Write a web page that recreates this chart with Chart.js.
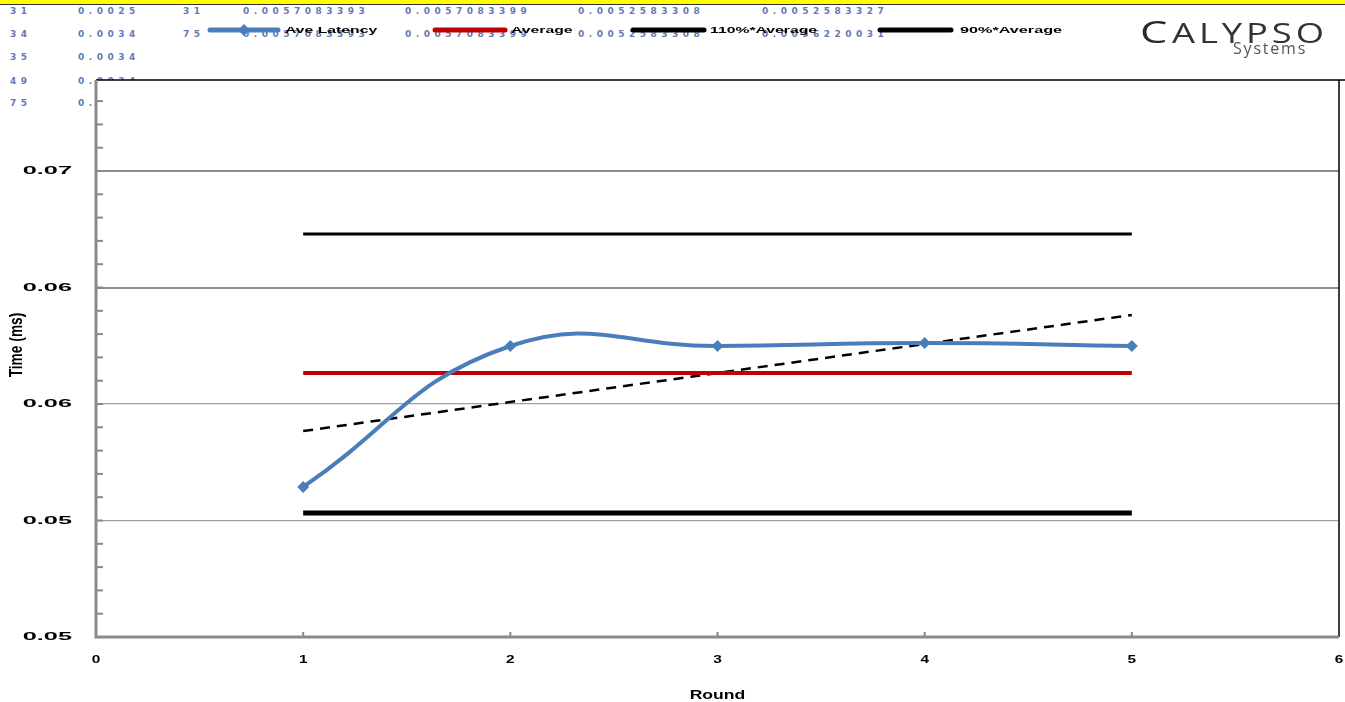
<!DOCTYPE html>
<html>
<head>
<meta charset="utf-8">
<script src="https://cdn.jsdelivr.net/npm/chart.js@4/dist/chart.umd.min.js"></script>
<style>
  html, body { margin:0; padding:0; background:#fff; width:1345px; height:702px; overflow:hidden; }
  #wrap { position:relative; width:1345px; height:702px; }
  #topbar { position:absolute; left:0; top:0; width:1345px; height:4px; background:#ffff00; border-bottom:1px solid #333; z-index:3; }
  .bg { position:absolute; font-family:"DejaVu Sans", sans-serif; font-size:9px; font-weight:bold; color:#3d56a8; letter-spacing:4.5px; white-space:nowrap; z-index:0; opacity:0.8; }
  canvas { position:absolute; left:0; top:0; z-index:1; }
  #logo { position:absolute; left:0; top:0; z-index:2; font-family:"Open Sans", "DejaVu Sans", sans-serif; color:#2e2e2e; white-space:nowrap; }
  #logo span { position:absolute; display:block; }
  #logo .big { left:1140px; top:16px; font-size:31px; line-height:31px; font-weight:400; transform:scaleX(1.4); transform-origin:left top; color:#2a2a2a; }
  #logo .rest { left:1172px; top:18px; font-size:28px; line-height:28px; font-weight:400; letter-spacing:3px; transform:scaleX(1.3); transform-origin:left top; color:#333; }
  #logo .sys { left:1233px; top:40px; font-size:16px; line-height:16px; color:#555; letter-spacing:1.8px; }
</style>
</head>
<body>
<div id="wrap">
  <div id="topbar"></div>
  <canvas id="c" width="1345" height="702"></canvas>
  <div id="logo"><span class="big">C</span><span class="rest">ALYPSO</span><span class="sys">Systems</span></div>
</div>
<script>
// ---------------- data ----------------
const rounds = [1, 2, 3, 4, 5];
const aveLatency = [0.05144, 0.05749, 0.05749, 0.05762, 0.05749];
const lineRounds = [1, 5];
const averageLine = [0.05633, 0.05633];
const avg110Line = [0.06230, 0.06230];
const avg90Line = [0.05032, 0.05032];
const trendLine = [0.05384, 0.05882];
const seriesNames = ['Ave Latency', 'Average', '110%*Average', '90%*Average'];
const yTickValues = [0.045, 0.05, 0.055, 0.06, 0.065];
const yTickLabels = ['0.05', '0.05', '0.06', '0.06', '0.07'];
const xTickLabels = ['0', '1', '2', '3', '4', '5', '6'];
const xTitle = 'Round';
const yTitle = 'Time (ms)';

// background spreadsheet text (behind the chart)
const bgColA = ['31', '34', '35', '49', '75'];
const bgColB = ['0.0025', '0.0034', '0.0034', '0.0034', '0.0034'];
const bgRow1 = ['31', '0.0057083393', '0.0057083399', '0.0052583308', '0.0052583327'];
const bgRow2 = ['75', '0.0057083393', '0.0057083399', '0.0052583308', '0.0056220031'];

(function placeBg() {
  const wrap = document.getElementById('wrap');
  const rowsY = [6, 29, 52, 76, 98];
  const add = (t, x, y) => { const d = document.createElement('div'); d.className = 'bg'; d.textContent = t; d.style.left = x + 'px'; d.style.top = y + 'px'; wrap.appendChild(d); };
  bgColA.forEach((t, i) => add(t, 10, rowsY[i]));
  bgColB.forEach((t, i) => add(t, 78, rowsY[i]));
  const colsX = [183, 243, 405, 578, 762];
  bgRow1.forEach((t, i) => add(t, colsX[i], rowsY[0]));
  bgRow2.forEach((t, i) => add(t, colsX[i], rowsY[1]));
})();

const toXY = (xs, ys) => xs.map((x, i) => ({ x: x, y: ys[i] }));

function sText(ctx, text, x, y, font, sx, sy, align, color, rot) {
  ctx.save();
  ctx.translate(x, y);
  if (rot) ctx.rotate(rot);
  ctx.scale(sx, sy);
  ctx.font = font;
  ctx.fillStyle = color;
  ctx.textAlign = align;
  ctx.textBaseline = 'middle';
  ctx.fillText(text, 0, 0);
  ctx.restore();
}

const decor = {
  id: 'decor',
  beforeDraw(chart) {
    const { ctx, chartArea: a } = chart;
    ctx.save();
    ctx.fillStyle = '#fff';
    ctx.fillRect(a.left, a.top, a.right - a.left + 2, a.bottom - a.top);
    ctx.restore();
  },
  beforeDatasetsDraw(chart) {
    const { ctx, chartArea: a, scales } = chart;
    const y = scales.y, x = scales.x;
    ctx.save();
    ctx.strokeStyle = '#000';
    ctx.lineWidth = 1.5;
    ctx.beginPath();
    ctx.moveTo(a.left, a.top); ctx.lineTo(1345, a.top);
    ctx.moveTo(a.right, a.top); ctx.lineTo(a.right, a.bottom);
    ctx.stroke();
    ctx.strokeStyle = '#888';
    ctx.lineWidth = 2;
    for (let k = 0; k <= 24; k++) {
      const v = 0.045 + k * 0.001;
      if (v > y.max) break;
      const py = y.getPixelForValue(v);
      ctx.beginPath(); ctx.moveTo(a.left, py); ctx.lineTo(a.left + 7, py); ctx.stroke();
    }
    for (let k = 1; k <= 5; k++) {
      const px = x.getPixelForValue(k);
      ctx.beginPath(); ctx.moveTo(px, a.bottom); ctx.lineTo(px, a.bottom - 5); ctx.stroke();
    }
    ctx.strokeStyle = '#8a8a8a';
    ctx.lineWidth = 3;
    ctx.beginPath();
    ctx.moveTo(a.left, a.top); ctx.lineTo(a.left, a.bottom); ctx.lineTo(a.right, a.bottom);
    ctx.stroke();
    ctx.restore();
  },
  afterDraw(chart) {
    const { ctx, chartArea: a, scales } = chart;
    const y = scales.y, x = scales.x;
    yTickValues.forEach((v, i) => {
      sText(ctx, yTickLabels[i], 72, y.getPixelForValue(v), 'bold 11px "Liberation Sans", Arial', 2.3, 1.0, 'right', '#000');
    });
    xTickLabels.forEach((t, i) => {
      sText(ctx, t, x.getPixelForValue(Number(t)), 660, 'bold 11px "Liberation Sans", Arial', 1.4, 1.0, 'center', '#000');
    });
    sText(ctx, xTitle, (a.left + a.right) / 2, 696, 'bold 11px "Liberation Sans", Arial', 1.6, 1.1, 'center', '#000');
    sText(ctx, yTitle, 17, 345, 'bold 11px "Liberation Sans", Arial', 1.25, 1.6, 'center', '#000', -Math.PI / 2);
    const items = [
      { ds: 0, x1: 210, x2: 278, tx: 285, sx: 1.75 },
      { ds: 1, x1: 435, x2: 505, tx: 511, sx: 1.75 },
      { ds: 2, x1: 633, x2: 704, tx: 710, sx: 1.75 },
      { ds: 3, x1: 880, x2: 951, tx: 960, sx: 1.8 }
    ];
    items.forEach(it => {
      const ds = chart.data.datasets[it.ds];
      ctx.save();
      ctx.strokeStyle = ds.borderColor;
      ctx.lineWidth = 5;
      ctx.lineCap = 'round';
      ctx.beginPath(); ctx.moveTo(it.x1, 30); ctx.lineTo(it.x2, 30); ctx.stroke();
      if (it.ds === 0) {
        ctx.fillStyle = ds.borderColor;
        ctx.beginPath();
        const cx = (it.x1 + it.x2) / 2;
        ctx.moveTo(cx, 24); ctx.lineTo(cx + 6, 30); ctx.lineTo(cx, 36); ctx.lineTo(cx - 6, 30); ctx.closePath(); ctx.fill();
      }
      ctx.restore();
      sText(ctx, ds.label, it.tx, 31, 'bold 9px "Liberation Sans", Arial', it.sx, 1.0, 'left', '#000');
    });
  }
};

new Chart(document.getElementById('c'), {
  type: 'scatter',
  data: {
    datasets: [
      { label: seriesNames[0], data: toXY(rounds, aveLatency), showLine: true, tension: 0.45,
        borderColor: '#4a7ebb', backgroundColor: '#4a7ebb', borderWidth: 4,
        pointStyle: 'rectRot', pointRadius: 6, pointBorderWidth: 0, order: 0 },
      { label: seriesNames[1], data: toXY(lineRounds, averageLine), showLine: true,
        borderColor: '#c00000', borderWidth: 4, pointRadius: 0, order: 1 },
      { label: seriesNames[2], data: toXY(lineRounds, avg110Line), showLine: true,
        borderColor: '#000000', borderWidth: 3, pointRadius: 0, order: 2 },
      { label: seriesNames[3], data: toXY(lineRounds, avg90Line), showLine: true,
        borderColor: '#000000', borderWidth: 5, pointRadius: 0, order: 3 },
      { label: 'Linear (Ave Latency)', data: toXY(lineRounds, trendLine), showLine: true,
        borderColor: '#000000', borderWidth: 2.5, borderDash: [10, 7], pointRadius: 0, order: 4 }
    ]
  },
  options: {
    responsive: false,
    animation: false,
    devicePixelRatio: 1,
    layout: { padding: { left: 0, top: 80, right: 2, bottom: 0 } },
    plugins: { legend: { display: false }, tooltip: { enabled: false } },
    scales: {
      x: {
        type: 'linear', min: 0, max: 6,
        ticks: { display: false, stepSize: 1 },
        grid: { display: false },
        border: { display: false },
        afterFit(s) { s.height = 65; }
      },
      y: {
        type: 'linear', min: 0.045, max: 0.068906,
        ticks: { display: false },
        afterBuildTicks(s) { s.ticks = yTickValues.map(v => ({ value: v })); },
        grid: {
          drawTicks: false,
          color: ctx => ctx.tick && ctx.tick.value >= 0.0595 ? '#8c8c8c' : '#a0a0a0',
          lineWidth: ctx => ctx.tick && ctx.tick.value >= 0.0595 ? 2 : 1.2
        },
        border: { display: false },
        afterFit(s) { s.width = 96; }
      }
    }
  },
  plugins: [decor]
});
</script>
</body>
</html>
